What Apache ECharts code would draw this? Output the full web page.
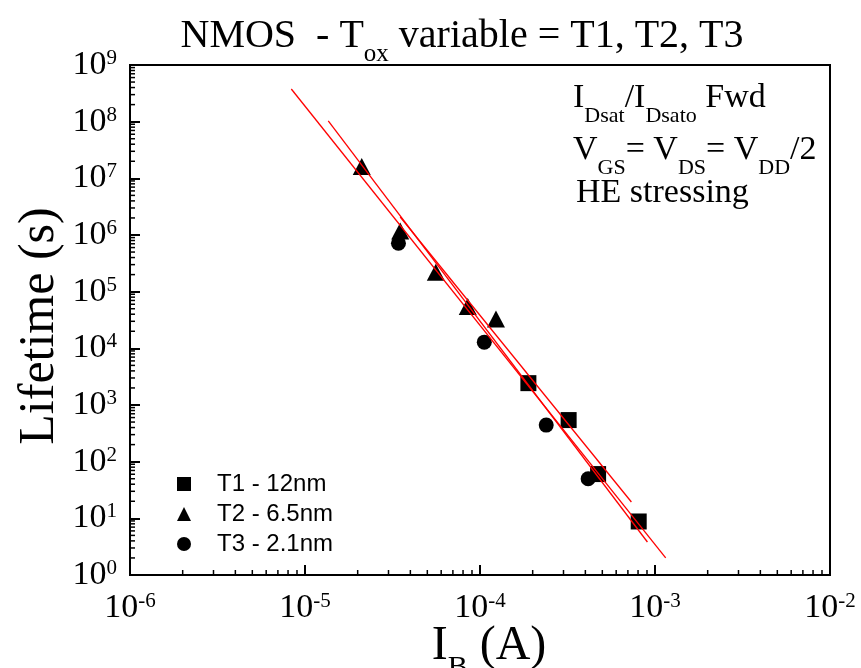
<!DOCTYPE html>
<html><head><meta charset="utf-8">
<script src="https://cdn.jsdelivr.net/npm/echarts@6/dist/echarts.min.js"></script>
<style>html,body{margin:0;padding:0;background:#fff}#c{width:861px;height:668px}</style>
</head><body><div id="c"></div>
<script>
// ---- data ----
const seriesNames = ['T1 - 12nm', 'T2 - 6.5nm', 'T3 - 2.1nm'];
const t1X = [1.89e-4, 3.21e-4, 4.73e-4, 8.07e-4];
const t1Y = [2430, 542, 60.4, 8.8];
const t2X = [2.11e-5, 3.50e-5, 5.59e-5, 8.51e-5, 1.234e-4];
const t2Y = [1.61e7, 1.18e6, 2.21e5, 5.46e4, 3.31e4];
const t3X = [3.42e-5, 1.058e-4, 2.39e-4, 4.15e-4];
const t3Y = [7.17e5, 1.285e4, 442, 49.9];
// fitted lines (end points)
const fitAX = [8.35e-6, 1.151e-3];
const fitAY = [3.77e8, 2.0];
const fitBX = [1.358e-5, 9.05e-4];
const fitBY = [1.03e8, 3.82];
const fitCX = [3.50e-5, 7.33e-4];
const fitCY = [2.08e6, 19.4];
// axes
const xMin = 1e-6, xMax = 1e-2;
const yMin = 1, yMax = 1e9;
const xDecades = [-6, -5, -4, -3];
const yDecades = [0, 1, 2, 3, 4, 5, 6, 7, 8];
const minorMultipliers = [2, 3, 4, 5, 6, 7, 8, 9];

const xMinor = [];
xDecades.forEach(e => minorMultipliers.forEach(k => xMinor.push(k * Math.pow(10, e))));
const yMinor = [];
yDecades.forEach(e => minorMultipliers.forEach(k => yMinor.push(k * Math.pow(10, e))));

const zip = (a, b) => a.map((v, i) => [v, b[i]]);
const SERIF = 'Liberation Serif';

function tickSeries(vals, axis, len) {
  return {
    type: 'custom', silent: true, clip: false, z: 4,
    data: vals.map(v => axis === 'x' ? [v, yMin] : [xMin, v]),
    renderItem: (params, api) => {
      const p = api.coord([api.value(0), api.value(1)]);
      const shape = axis === 'x'
        ? { x1: p[0], y1: p[1], x2: p[0], y2: p[1] - len }
        : { x1: p[0], y1: p[1], x2: p[0] + len, y2: p[1] };
      return { type: 'line', shape, style: { stroke: '#000', lineWidth: 1.5 } };
    }
  };
}

const labelRich = {
  b: { fontFamily: SERIF, fontSize: 34, lineHeight: 34, color: '#000', verticalAlign: 'top' },
  s: { fontFamily: SERIF, fontSize: 21, lineHeight: 21, color: '#000', verticalAlign: 'top' }
};
const powFmt = v => '{b|10}{s|' + Math.round(Math.log10(v)) + '}';

function richStyles(main, sub, pad) {
  return {
    m: { fontFamily: SERIF, fontSize: main, lineHeight: main, color: '#000', verticalAlign: 'top' },
    s: { fontFamily: SERIF, fontSize: sub, lineHeight: sub, color: '#000', verticalAlign: 'top', padding: [pad, 0, 0, 0] }
  };
}

const fitLine = (x, y) => ({
  type: 'line', data: zip(x, y), symbol: 'none', z: 6, silent: true,
  lineStyle: { color: '#ff0000', width: 1.3 }
});

const markerStyle = { color: '#000', opacity: 1 };

const chart = echarts.init(document.getElementById('c'), null, { renderer: 'canvas' });
chart.setOption({
  animation: false,
  backgroundColor: '#fff',
  grid: { left: 130, right: 31, top: 65, bottom: 93, show: true, borderColor: '#000', borderWidth: 2, backgroundColor: 'transparent' },
  xAxis: {
    type: 'log', logBase: 10, min: xMin, max: xMax, interval: 1,
    axisLine: { show: true, onZero: false, lineStyle: { color: '#000', width: 2 } },
    axisTick: { show: true, inside: true, length: 10, lineStyle: { color: '#000', width: 2 } },
    splitLine: { show: false },
    axisLabel: { margin: 16, formatter: powFmt, rich: labelRich }
  },
  yAxis: {
    type: 'log', logBase: 10, min: yMin, max: yMax, interval: 1,
    axisLine: { show: true, onZero: false, lineStyle: { color: '#000', width: 2 } },
    axisTick: { show: true, inside: true, length: 10, lineStyle: { color: '#000', width: 2 } },
    splitLine: { show: false },
    axisLabel: { margin: 13, formatter: powFmt, rich: labelRich }
  },
  legend: {
    data: seriesNames,
    orient: 'vertical', left: 172, top: 467,
    itemWidth: 14, itemHeight: 14, itemGap: 6,
    itemStyle: { opacity: 1 },
    formatter: n => '{g|}{t|' + n + '}',
    textStyle: {
      rich: {
        g: { width: 21 },
        t: { fontFamily: 'Liberation Sans', fontSize: 24, color: '#000' }
      }
    }
  },
  graphic: [
    { type: 'text', x: 462, y: 16, silent: true,
      style: { text: '{m|NMOS  - T}{s|ox}{m| variable = T1, T2, T3}', rich: richStyles(40, 25, 26), textAlign: 'center', textVerticalAlign: 'top' } },
    { type: 'text', x: 573, y: 81, silent: true,
      style: { text: '{m|I}{s|Dsat}{m|/I}{s|Dsato}{m| Fwd}', rich: richStyles(34, 22, 24), textAlign: 'left', textVerticalAlign: 'top' } },
    { type: 'text', x: 573, y: 133, silent: true,
      style: { text: '{m|V}{s|GS}{m|= V}{s|DS}{m|= V}{s|DD}{m|/2}', rich: richStyles(34, 22, 24), textAlign: 'left', textVerticalAlign: 'top' } },
    { type: 'text', x: 576, y: 176, silent: true,
      style: { text: '{m|HE stressing}', rich: richStyles(34, 22, 24), textAlign: 'left', textVerticalAlign: 'top' } },
    { type: 'text', x: 489, y: 622, silent: true,
      style: { text: '{m|I}{s|B}{m| (A)}', rich: richStyles(48, 30, 31), textAlign: 'center', textVerticalAlign: 'top' } },
    { type: 'text', x: 40, y: 326, rotation: Math.PI / 2, silent: true,
      style: { text: 'Lifetime (s)', font: '50px "Liberation Serif"', fill: '#000', textAlign: 'center', textVerticalAlign: 'middle' } }
  ],
  series: [
    { name: seriesNames[0], type: 'scatter', symbol: 'rect', symbolSize: 16, data: zip(t1X, t1Y), itemStyle: markerStyle, z: 5 },
    { name: seriesNames[1], type: 'scatter', symbol: 'triangle', symbolSize: [18, 17], data: zip(t2X, t2Y), itemStyle: markerStyle, z: 5 },
    { name: seriesNames[2], type: 'scatter', symbol: 'circle', symbolSize: 15, data: zip(t3X, t3Y), itemStyle: markerStyle, z: 5 },
    fitLine(fitAX, fitAY),
    fitLine(fitBX, fitBY),
    fitLine(fitCX, fitCY),
    tickSeries(xMinor, 'x', 5),
    tickSeries(yMinor, 'y', 5)
  ]
});
</script>
</body></html>
